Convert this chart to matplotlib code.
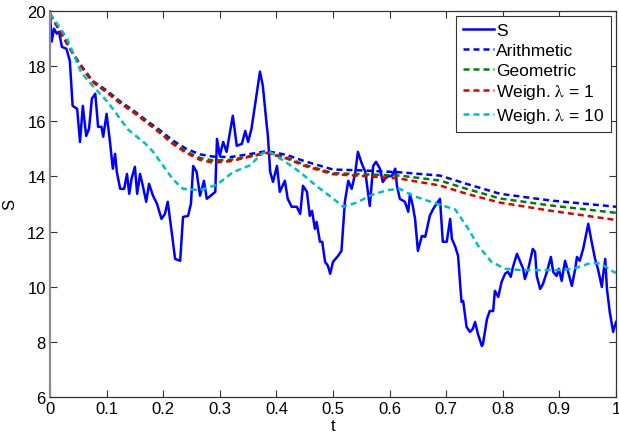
import numpy as np
import matplotlib.pyplot as plt

plt.rcParams['font.family'] = ['Liberation Sans', 'DejaVu Sans']
plt.rcParams['mathtext.fontset'] = 'stix'

# simulated price path S(t)
t_s = [0.000, 0.003, 0.007, 0.012, 0.016, 0.021, 0.029, 0.035, 0.040, 0.048,
       0.053, 0.058, 0.064, 0.069, 0.074, 0.080, 0.085, 0.091, 0.094, 0.100,
       0.106, 0.111, 0.115, 0.118, 0.124, 0.131, 0.136, 0.140, 0.144, 0.150,
       0.154, 0.159, 0.164, 0.170, 0.175, 0.182, 0.189, 0.197, 0.203, 0.208,
       0.215, 0.221, 0.230, 0.235, 0.244, 0.249, 0.253, 0.259, 0.265, 0.272,
       0.277, 0.284, 0.292, 0.295, 0.300, 0.306, 0.312, 0.323, 0.330, 0.339,
       0.345, 0.350, 0.356, 0.362, 0.371, 0.376, 0.383, 0.385, 0.389, 0.394,
       0.401, 0.406, 0.415, 0.420, 0.427, 0.436, 0.442, 0.447, 0.454, 0.459,
       0.463, 0.468, 0.471, 0.477, 0.481, 0.486, 0.491, 0.495, 0.500, 0.509,
       0.515, 0.521, 0.527, 0.533, 0.539, 0.544, 0.551, 0.557, 0.565, 0.571,
       0.576, 0.583, 0.588, 0.595, 0.604, 0.610, 0.613, 0.618, 0.627, 0.633,
       0.636, 0.641, 0.645, 0.650, 0.657, 0.663, 0.671, 0.677, 0.683, 0.689,
       0.694, 0.701, 0.707, 0.710, 0.716, 0.721, 0.727, 0.730, 0.736, 0.742,
       0.747, 0.751, 0.756, 0.763, 0.765, 0.772, 0.777, 0.783, 0.786, 0.792,
       0.798, 0.804, 0.809, 0.814, 0.818, 0.825, 0.830, 0.836, 0.839, 0.845,
       0.853, 0.857, 0.860, 0.866, 0.871, 0.878, 0.885, 0.889, 0.895, 0.899,
       0.904, 0.910, 0.915, 0.922, 0.928, 0.931, 0.936, 0.942, 0.951, 0.957,
       0.963, 0.968, 0.975, 0.977, 0.981, 0.984, 0.989, 0.995, 1.000]
S = [19.90, 18.89, 19.36, 19.18, 19.25, 18.70, 18.63, 18.20, 16.56, 16.45,
     15.25, 16.56, 15.47, 15.73, 16.82, 17.00, 15.80, 15.80, 15.44, 16.27,
     15.25, 14.28, 14.82, 14.17, 13.55, 13.55, 14.09, 13.37, 13.91, 14.35,
     13.37, 14.09, 13.66, 13.08, 13.73, 13.30, 13.01, 12.46, 12.64, 13.08,
     11.99, 11.01, 10.94, 12.53, 12.57, 13.01, 14.38, 14.17, 13.30, 13.84,
     13.19, 13.30, 13.44, 15.36, 14.75, 15.25, 14.89, 16.20, 15.11, 15.18,
     15.65, 15.25, 15.73, 16.56, 17.80, 17.29, 15.84, 15.47, 14.17, 13.80,
     14.38, 13.44, 13.84, 13.19, 12.90, 12.90, 12.64, 13.66, 13.44, 12.57,
     12.75, 12.10, 12.35, 11.63, 11.63, 10.90, 10.76, 10.47, 10.90, 11.12,
     11.30, 13.08, 13.84, 13.55, 14.09, 14.89, 14.46, 14.17, 12.93, 14.38,
     14.53, 14.28, 13.80, 13.99, 14.02, 14.28, 13.66, 13.19, 13.08, 12.72,
     13.37, 12.93, 12.46, 11.30, 11.84, 11.81, 12.57, 12.82, 13.01, 13.19,
     11.63, 11.63, 12.46, 11.74, 11.45, 11.12, 9.45, 9.48, 8.54, 8.36,
     8.47, 8.72, 8.29, 7.85, 7.92, 8.83, 9.12, 9.12, 9.85, 9.63,
     10.18, 10.47, 10.54, 10.36, 10.72, 11.19, 10.94, 10.65, 10.28, 10.65,
     11.37, 11.26, 10.39, 9.92, 10.10, 10.54, 11.08, 10.54, 10.39, 10.65,
     10.21, 10.94, 10.57, 10.03, 10.65, 11.08, 10.94, 11.37, 12.28, 11.63,
     11.01, 10.65, 9.99, 10.39, 11.01, 9.92, 9.08, 8.36, 8.72]

# running averages
t_avg = [0.000, 0.025, 0.049, 0.075, 0.100, 0.124, 0.147, 0.171, 0.194, 0.217,
         0.241, 0.265, 0.288, 0.318, 0.350, 0.383, 0.418, 0.450, 0.500, 0.550,
         0.618, 0.689, 0.736, 0.795, 0.883, 1.000]
arith = [19.90, 19.00, 18.20, 17.47, 17.12, 16.72, 16.40, 16.02, 15.68, 15.30,
         15.00, 14.80, 14.72, 14.70, 14.80, 14.92, 14.78, 14.55, 14.25, 14.22,
         14.15, 14.03, 13.73, 13.37, 13.13, 12.90]
geom = [19.90, 19.00, 18.17, 17.45, 17.08, 16.68, 16.36, 15.98, 15.62, 15.22,
        14.90, 14.67, 14.58, 14.60, 14.72, 14.86, 14.68, 14.42, 14.12, 14.08,
        14.03, 13.85, 13.55, 13.20, 12.95, 12.68]
weigh1 = [19.90, 19.00, 18.15, 17.43, 17.05, 16.65, 16.33, 15.95, 15.58, 15.18,
          14.85, 14.60, 14.50, 14.55, 14.70, 14.85, 14.65, 14.38, 14.08, 14.02,
          13.92, 13.67, 13.37, 13.05, 12.76, 12.42]

t_w10 = [0.000, 0.019, 0.030, 0.055, 0.072, 0.102, 0.138, 0.168, 0.182, 0.217,
         0.235, 0.265, 0.295, 0.323, 0.353, 0.376, 0.389, 0.418, 0.442, 0.471,
         0.500, 0.518, 0.542, 0.565, 0.595, 0.618, 0.641, 0.677, 0.716, 0.739,
         0.756, 0.780, 0.804, 0.833, 0.895, 0.924, 0.954, 0.972, 0.995, 1.000]
weigh10 = [19.90, 19.35, 19.00, 17.78, 17.36, 16.70, 15.70, 15.20, 14.90, 13.90,
           13.55, 13.50, 13.70, 14.15, 14.40, 14.85, 14.88, 14.50, 14.15, 13.65,
           13.20, 12.90, 13.05, 13.30, 13.50, 13.55, 13.30, 13.05, 12.80, 12.10,
           11.50, 10.90, 10.65, 10.60, 10.60, 10.65, 10.85, 10.85, 10.55, 10.50]

labels = ['S', 'Arithmetic', 'Geometric',
          r'Weigh. $\mathrm{\lambda}$ = 1', r'Weigh. $\mathrm{\lambda}$ = 10']

fig = plt.figure(figsize=(6.19, 4.35), dpi=100)
ax = fig.add_axes([50 / 619, 37 / 435, 566 / 619, 386 / 435])

dash = (0, (2.4, 1.6))
lw = 1.8
ax.plot(t_s, S, color='#0000ff', lw=lw, label=labels[0])
ax.plot(t_avg, arith, color='#0000ff', lw=lw, ls=dash, label=labels[1])
ax.plot(t_avg, geom, color='#007f00', lw=lw, ls=dash, label=labels[2])
ax.plot(t_avg, weigh1, color='#e00000', lw=lw, ls=dash, label=labels[3])
ax.plot(t_w10, weigh10, color='#00bfbf', lw=lw, ls=dash, label=labels[4])

ax.set_xlim(0, 1)
ax.set_ylim(6, 20)
ax.set_xticks(np.arange(0, 1.01, 0.1))
ax.set_xticklabels(['0', '0.1', '0.2', '0.3', '0.4', '0.5', '0.6', '0.7', '0.8', '0.9', '1'])
ax.set_yticks(np.arange(6, 21, 2))
ax.tick_params(direction='in', top=True, right=True, length=5, width=0.8,
               labelsize=12, colors='#333333', labelcolor='black', pad=3)
for side in ['top', 'right', 'bottom']:
    ax.spines[side].set_color('#333333')
    ax.spines[side].set_linewidth(0.9)
ax.spines['left'].set_color('#8c8c8c')
ax.spines['left'].set_linewidth(1.6)

ax.set_xlabel('t', fontsize=12, labelpad=1)
ax.set_ylabel('S', fontsize=12, labelpad=7)

leg = ax.legend(loc='upper right', fontsize=12.5, fancybox=False, framealpha=1,
                edgecolor='#333333', handlelength=1.8, handletextpad=0.1,
                labelspacing=0.26, borderpad=0.4, borderaxespad=0.3)
leg.get_frame().set_linewidth(0.8)

fig.savefig('out.png', dpi=100)
